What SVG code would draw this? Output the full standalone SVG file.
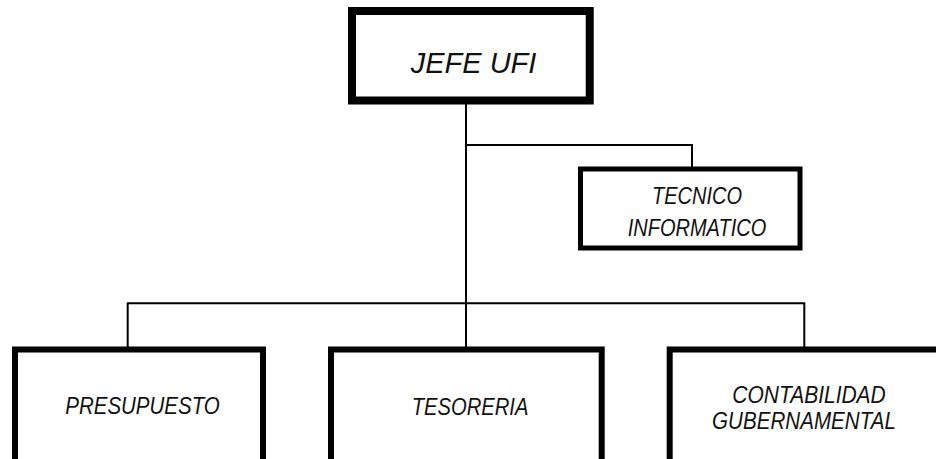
<svg xmlns="http://www.w3.org/2000/svg" width="936" height="459" viewBox="0 0 936 459">
<style>
.box{fill:#fff;stroke:#000}
.t{font-family:"Liberation Sans",Arial,sans-serif;font-style:italic;fill:#111;text-anchor:middle}
.ln{fill:none;stroke:#000;stroke-width:2}
</style>
<rect width="936" height="459" fill="#fff"/>
<g id="connectors">
<path class="ln" d="M466 104V347"/>
<path class="ln" d="M466 145H692V167"/>
<path class="ln" d="M127.7 347V303.3H804.3V347"/>
</g>
<g id="jefe">
<rect class="box" x="352" y="11" width="237.7" height="89.5" stroke-width="8"/>
<text class="t" transform="translate(473.5,72.5)" font-size="29">JEFE UFI</text>
</g>
<g id="tecnico">
<rect class="box" x="580.5" y="169" width="219.5" height="79" stroke-width="5"/>
<text class="t" transform="translate(697,204) scale(1,1.18)" font-size="20">TECNICO</text>
<text class="t" transform="translate(697,236) scale(1,1.18)" font-size="20">INFORMATICO</text>
</g>
<g id="presupuesto">
<rect class="box" x="15" y="349.5" width="248" height="200" stroke-width="6"/>
<text class="t" transform="translate(142.5,414) scale(1,1.14)" font-size="20.5">PRESUPUESTO</text>
</g>
<g id="tesoreria">
<rect class="box" x="331" y="349.5" width="270.7" height="200" stroke-width="6"/>
<text class="t" transform="translate(470,415) scale(1,1.14)" font-size="20.2">TESORERIA</text>
</g>
<g id="contabilidad">
<rect class="box" x="669.7" y="349.5" width="300" height="200" stroke-width="6"/>
<text class="t" transform="translate(809,403.3) scale(1,1.14)" font-size="21">CONTABILIDAD</text>
<text class="t" transform="translate(804,429.3) scale(1,1.14)" font-size="20.6">GUBERNAMENTAL</text>
</g>
</svg>
